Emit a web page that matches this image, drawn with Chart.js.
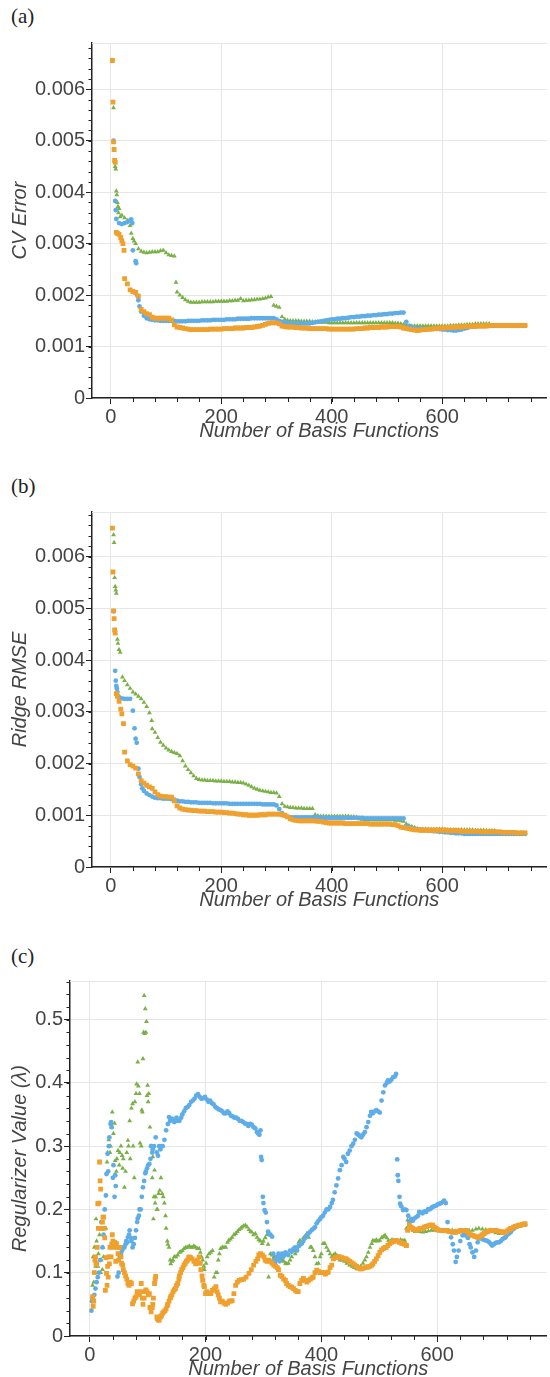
<!DOCTYPE html>
<html>
<head>
<meta charset="utf-8">
<script src="https://cdn.jsdelivr.net/npm/chart.js@4.4.1/dist/chart.umd.min.js"></script>
<style>
  body { margin: 0; background: #fff; width: 550px; height: 1377px; position: relative; overflow: hidden; }
  .panel { position: absolute; left: 0; width: 550px; height: 450px; }
  .tag { position: absolute; left: 11px; font: 21px "Liberation Serif", serif; color: #222; }
</style>
</head>
<body>
<div class="tag" style="top:4px">(a)</div>
<div class="panel" style="top:0"><canvas id="cvChart" width="550" height="450"></canvas></div>
<div class="tag" style="top:474px">(b)</div>
<div class="panel" style="top:469px"><canvas id="rmseChart" width="550" height="450"></canvas></div>
<div class="tag" style="top:944px">(c)</div>
<div class="panel" style="top:938px"><canvas id="lambdaChart" width="550" height="450"></canvas></div>
<script>
// ---- axes ----
const basisTicks = [0, 200, 400, 600];
const basisLabels = ["0", "200", "400", "600"];
const errorTicks = [0, 0.001, 0.002, 0.003, 0.004, 0.005, 0.006];
const errorLabels = ["0", "0.001", "0.002", "0.003", "0.004", "0.005", "0.006"];
const lambdaTicks = [0, 0.1, 0.2, 0.3, 0.4, 0.5];
const lambdaLabels = ["0", "0.1", "0.2", "0.3", "0.4", "0.5"];

// number of basis functions sampled in panels (a) and (b)
const gridAB = [
  10,15,20,25,30,35,40,45,50,55,
  60,65,70,75,80,85,90,95,100,105,
  110,115,120,125,130,135,140,145,150,155,
  160,165,170,175,180,185,190,195,200,205,
  210,215,220,225,230,235,240,245,250,255,
  260,265,270,275,280,285,290,295,300,305,
  310,315,320,325,330,335,340,345,350,355,
  360,365,370,375,380,385,390,395,400,405,
  410,415,420,425,430,435,440,445,450,455,
  460,465,470,475,480,485,490,495,500,505,
  510,515,520,525,530,535,540,545,550,555,
  560,565,570,575,580,585,590,595,600,605,
  610,615,620,625,630,635,640,645,650,655,
  660,665,670,675,680,685,690,695,700,705,
  710,715,720,725,730,735,740,745,750
];

// ---- (a) CV error ----
const cvBlueHeadX = [5, 8, 9, 37, 39, 46, 48, 52];
const cvBlueHeadY = [0.00500, 0.00383, 0.00365, 0.00347, 0.00340, 0.00262, 0.00199, 0.00178];
const cvBlue = [
  0.00348,0.00340,0.00338,0.00340,0.00342,0.00345,0.00287,0.00266,0.00190,0.00168,
  0.00160,0.00155,0.00153,0.00152,0.00151,0.00151,0.00150,0.00150,0.00150,0.00150,
  0.00150,0.00150,0.00149,0.00149,0.00149,0.00149,0.00150,0.00150,0.00150,0.00150,
  0.00150,0.00151,0.00151,0.00151,0.00151,0.00152,0.00152,0.00152,0.00152,0.00152,
  0.00153,0.00153,0.00153,0.00153,0.00154,0.00154,0.00154,0.00154,0.00154,0.00155,
  0.00155,0.00155,0.00155,0.00155,0.00155,0.00155,0.00155,0.00155,0.00153,0.00150,
  0.00148,0.00147,0.00146,0.00145,0.00145,0.00145,0.00145,0.00145,0.00145,0.00145,
  0.00145,0.00146,0.00147,0.00148,0.00149,0.00150,0.00151,0.00152,0.00153,0.00153,
  0.00154,0.00154,0.00155,0.00155,0.00156,0.00157,0.00157,0.00158,0.00158,0.00159,
  0.00159,0.00160,0.00160,0.00161,0.00161,0.00162,0.00162,0.00163,0.00163,0.00164,
  0.00164,0.00165,0.00165,0.00166,0.00166,0.00148,0.00140,0.00137,0.00136,0.00135,
  0.00135,0.00135,0.00134,0.00134,0.00134,0.00134,0.00134,0.00134,0.00133,0.00133,
  0.00132,0.00132,0.00131,0.00131,0.00132,0.00133,0.00135,0.00136,0.00138,0.00139,
  0.00139,0.00140,0.00140,0.00140,0.00140,0.00140,0.00140,0.00140,0.00140,0.00140,
  0.00140,0.00140,0.00140,0.00140,0.00140,0.00140,0.00140,0.00140,0.00140
];
const cvGreenHeadX = [5, 7, 8, 9, 11, 12, 13, 14, 17, 37, 42, 118];
const cvGreenHeadY = [0.00564, 0.00460, 0.00450, 0.00445, 0.00395, 0.00380, 0.00372, 0.00360, 0.00352, 0.00320, 0.00305, 0.00225];
const cvGreen = [
  0.00402,0.00368,0.00355,0.00350,0.00345,0.00335,0.00310,0.00300,0.00290,0.00285,
  0.00283,0.00282,0.00283,0.00284,0.00284,0.00284,0.00286,0.00287,0.00282,0.00278,
  0.00277,0.00276,0.00206,0.00200,0.00195,0.00191,0.00188,0.00186,0.00186,0.00186,
  0.00186,0.00187,0.00187,0.00187,0.00187,0.00187,0.00188,0.00188,0.00188,0.00188,
  0.00188,0.00189,0.00189,0.00190,0.00190,0.00193,0.00189,0.00190,0.00190,0.00191,
  0.00191,0.00192,0.00192,0.00193,0.00194,0.00196,0.00197,0.00180,0.00178,0.00176,
  0.00158,0.00153,0.00151,0.00150,0.00150,0.00150,0.00150,0.00149,0.00149,0.00149,
  0.00149,0.00148,0.00148,0.00148,0.00147,0.00147,0.00147,0.00146,0.00146,0.00146,
  0.00146,0.00146,0.00146,0.00146,0.00146,0.00146,0.00146,0.00146,0.00146,0.00146,
  0.00146,0.00146,0.00146,0.00146,0.00146,0.00146,0.00146,0.00146,0.00146,0.00146,
  0.00146,0.00145,0.00145,0.00144,0.00143,0.00141,0.00140,0.00140,0.00140,0.00140,
  0.00140,0.00140,0.00140,0.00140,0.00140,0.00140,0.00140,0.00140,0.00140,0.00140,
  0.00140,0.00141,0.00141,0.00141,0.00142,0.00142,0.00142,0.00143,0.00143,0.00143,
  0.00144,0.00144,0.00144,0.00144,0.00144,0.00144,null,null,null,null,
  null,null,null,null,null,null,null,null,null
];
const cvOrangeHeadX = [3, 4, 5, 6, 7, 8, 12, 18, 22, 24];
const cvOrangeHeadY = [0.00656, 0.00575, 0.00498, 0.00483, 0.00462, 0.00458, 0.00320, 0.00312, 0.00300, 0.00287];
const cvOrange = [
  0.00322,0.00318,0.00306,0.00232,0.00222,0.00210,0.00207,0.00205,0.00198,0.00172,
  0.00168,0.00164,0.00162,0.00157,0.00155,0.00155,0.00155,0.00155,0.00155,0.00155,
  0.00152,0.00142,0.00138,0.00137,0.00136,0.00135,0.00134,0.00133,0.00133,0.00133,
  0.00133,0.00133,0.00133,0.00133,0.00134,0.00134,0.00134,0.00134,0.00134,0.00135,
  0.00135,0.00135,0.00135,0.00136,0.00136,0.00136,0.00136,0.00137,0.00137,0.00137,
  0.00138,0.00139,0.00140,0.00141,0.00143,0.00145,0.00146,0.00146,0.00146,0.00144,
  0.00140,0.00139,0.00138,0.00138,0.00138,0.00137,0.00137,0.00136,0.00136,0.00136,
  0.00135,0.00135,0.00135,0.00135,0.00135,0.00135,0.00135,0.00134,0.00134,0.00134,
  0.00134,0.00134,0.00134,0.00134,0.00134,0.00134,0.00134,0.00135,0.00135,0.00135,
  0.00136,0.00136,0.00137,0.00137,0.00137,0.00137,0.00138,0.00138,0.00138,0.00139,
  0.00139,0.00139,0.00139,0.00138,0.00136,0.00135,0.00134,0.00133,0.00132,0.00131,
  0.00132,0.00133,0.00133,0.00134,0.00134,0.00135,0.00135,0.00136,0.00136,0.00136,
  0.00137,0.00137,0.00137,0.00138,0.00138,0.00138,0.00139,0.00139,0.00139,0.00140,
  0.00140,0.00140,0.00140,0.00140,0.00140,0.00141,0.00141,0.00141,0.00141,0.00141,
  0.00141,0.00141,0.00141,0.00141,0.00141,0.00141,0.00141,0.00141,0.00141
];

// ---- (b) ridge RMSE ----
const rmseBlueHeadX = [5, 8, 9, 11, 12, 43, 47, 52, 57];
const rmseBlueHeadY = [0.00494, 0.00379, 0.00360, 0.00345, 0.00338, 0.00268, 0.00240, 0.00174, 0.00152];
const rmseBlue = [
  0.00350,0.00328,0.00326,0.00325,0.00325,0.00325,0.00302,0.00248,0.00190,0.00160,
  0.00147,0.00142,0.00139,0.00136,0.00134,0.00133,0.00133,0.00132,0.00132,0.00132,
  0.00131,0.00130,0.00128,0.00127,0.00127,0.00126,0.00126,0.00125,0.00125,0.00125,
  0.00124,0.00124,0.00124,0.00124,0.00124,0.00123,0.00123,0.00123,0.00123,0.00123,
  0.00123,0.00122,0.00122,0.00122,0.00122,0.00122,0.00122,0.00122,0.00122,0.00122,
  0.00122,0.00122,0.00122,0.00121,0.00121,0.00121,0.00121,0.00121,0.00119,0.00112,
  0.00104,0.00100,0.00097,0.00096,0.00096,0.00096,0.00096,0.00096,0.00096,0.00096,
  0.00096,0.00096,0.00096,0.00096,0.00096,0.00095,0.00095,0.00095,0.00095,0.00095,
  0.00095,0.00095,0.00095,0.00095,0.00095,0.00095,0.00095,0.00095,0.00095,0.00095,
  0.00094,0.00094,0.00094,0.00094,0.00094,0.00094,0.00094,0.00094,0.00094,0.00094,
  0.00094,0.00094,0.00094,0.00094,0.00094,0.00080,0.00076,0.00075,0.00074,0.00073,
  0.00072,0.00071,0.00071,0.00070,0.00070,0.00069,0.00069,0.00068,0.00068,0.00067,
  0.00067,0.00066,0.00066,0.00065,0.00065,0.00065,0.00064,0.00064,0.00064,0.00064,
  0.00064,0.00064,0.00064,0.00064,0.00064,0.00064,0.00064,0.00064,0.00064,0.00064,
  0.00064,0.00064,0.00064,0.00064,0.00064,0.00064,0.00064,0.00064,0.00064
];
const rmseGreenHeadX = [5, 6, 7, 8, 9, 12, 13, 15, 17, 21, 74];
const rmseGreenHeadY = [0.00642, 0.00627, 0.00559, 0.00542, 0.00535, 0.00440, 0.00432, 0.00420, 0.00415, 0.00367, 0.00283];
const rmseGreen = [
  0.00529,null,null,0.00360,0.00352,0.00345,0.00338,0.00334,0.00330,0.00325,
  0.00318,0.00310,0.00298,0.00267,0.00260,0.00250,0.00241,0.00235,0.00230,0.00226,
  0.00223,0.00221,0.00219,0.00215,0.00205,0.00195,0.00188,0.00182,0.00176,0.00171,
  0.00169,0.00168,0.00168,0.00167,0.00167,0.00167,0.00166,0.00166,0.00166,0.00165,
  0.00165,0.00165,0.00164,0.00164,0.00163,0.00163,0.00162,0.00160,0.00158,0.00155,
  0.00152,0.00150,0.00148,0.00147,0.00146,0.00145,0.00144,0.00144,0.00143,0.00136,
  0.00122,0.00117,0.00116,0.00115,0.00115,0.00114,0.00114,0.00114,0.00113,0.00113,
  0.00113,0.00113,0.00101,0.00099,0.00098,0.00098,0.00098,0.00098,0.00098,0.00098,
  0.00098,0.00098,0.00098,0.00098,0.00098,0.00097,0.00097,0.00096,0.00093,0.00092,
  0.00091,0.00091,0.00091,0.00091,0.00091,0.00091,0.00091,0.00091,0.00091,0.00091,
  0.00091,0.00090,0.00090,0.00089,0.00088,0.00083,0.00080,0.00078,0.00076,0.00074,
  0.00073,0.00073,0.00073,0.00073,0.00073,0.00073,0.00073,0.00073,0.00073,0.00073,
  0.00072,0.00072,0.00072,0.00072,0.00072,0.00072,0.00072,0.00072,0.00072,0.00072,
  0.00071,0.00071,0.00071,0.00071,0.00070,0.00070,0.00070,0.00070,null,null,
  null,null,null,null,null,null,null,null,null
];
const rmseOrangeHeadX = [3, 4, 5, 6, 7, 8, 12, 18, 23];
const rmseOrangeHeadY = [0.00655, 0.00570, 0.00495, 0.00480, 0.00458, 0.00452, 0.00330, 0.00305, 0.00277];
const rmseOrange = [
  0.00335,0.00320,0.00296,0.00222,0.00205,0.00198,0.00195,0.00191,0.00180,0.00167,
  0.00162,0.00158,0.00155,0.00152,0.00145,0.00140,0.00137,0.00136,0.00136,0.00135,
  0.00135,0.00128,0.00118,0.00114,0.00112,0.00111,0.00110,0.00110,0.00109,0.00109,
  0.00108,0.00108,0.00108,0.00107,0.00107,0.00107,0.00106,0.00106,0.00106,0.00105,
  0.00105,0.00104,0.00104,0.00103,0.00102,0.00102,0.00101,0.00101,0.00100,0.00100,
  0.00100,0.00100,0.00101,0.00101,0.00101,0.00102,0.00102,0.00102,0.00102,0.00102,
  0.00101,0.00100,0.00097,0.00093,0.00091,0.00090,0.00089,0.00089,0.00089,0.00089,
  0.00089,0.00089,0.00089,0.00088,0.00088,0.00087,0.00086,0.00085,0.00085,0.00085,
  0.00085,0.00085,0.00085,0.00084,0.00084,0.00084,0.00084,0.00084,0.00084,0.00084,
  0.00084,0.00084,0.00083,0.00083,0.00083,0.00083,0.00083,0.00083,0.00083,0.00083,
  0.00082,0.00082,0.00080,0.00077,0.00076,0.00075,0.00074,0.00073,0.00072,0.00072,
  0.00071,0.00071,0.00071,0.00071,0.00071,0.00071,0.00071,0.00071,0.00071,0.00071,
  0.00070,0.00070,0.00070,0.00070,0.00070,0.00069,0.00069,0.00069,0.00069,0.00069,
  0.00069,0.00069,0.00068,0.00068,0.00068,0.00068,0.00068,0.00068,0.00068,0.00068,
  0.00067,0.00067,0.00067,0.00067,0.00067,0.00066,0.00066,0.00066,0.00066
];

// ---- (c) regularizer value, [basis functions, lambda] ----
const lambdaBlue = [
  [3,.040],[4,.055],[5,.060],[6,.058],[8,.065],[10,.075],[12,.085],[14,.093],[16,.100],[18,.120],
  [20,.180],[22,.140],[24,.160],[26,.200],[28,.222],[29,.256],[31,.288],[32,.260],[33,.300],[34,.314],
  [36,.335],[37,.338],[38,.330],[40,.250],[41,.270],[43,.220],[44,.254],[45,.237],[46,.146],[48,.094],
  [50,.100],[52,.125],[54,.130],[56,.135],[58,.140],[60,.140],[62,.145],[63,.150],[65,.148],[66,.156],
  [68,.160],[69,.167],[71,.155],[72,.150],[74,.140],[76,.145],[78,.155],[80,.167],[82,.180],[83,.186],
  [85,.190],[86,.200],[88,.200],[90,.220],[92,.235],[94,.245],[96,.257],[97,.260],[99,.265],[101,.270],
  [103,.272],[105,.280],[106,.300],[108,.290],[109,.295],[111,.300],[114,.314],[116,.290],[118,.285],[120,.300],
  [122,.295],[124,.300],[126,.300],[129,.310],[132,.325],[135,.335],[137,.346],[139,.340],[141,.343],[143,.343],
  [146,.338],[148,.340],[150,.345],[152,.340],[155,.340],[158,.345],[160,.350],[163,.355],[166,.360],[169,.362],
  [172,.365],[175,.370],[178,.372],[181,.375],[184,.380],[187,.382],[190,.378],[193,.375],[196,.376],[199,.378],
  [202,.374],[205,.370],[208,.372],[211,.368],[214,.366],[217,.362],[220,.360],[223,.358],[226,.357],[229,.355],
  [232,.352],[235,.352],[238,.355],[241,.352],[244,.348],[247,.347],[250,.345],[253,.345],[256,.343],[259,.340],
  [262,.340],[265,.338],[268,.336],[271,.335],[274,.332],[277,.335],[280,.334],[283,.330],[286,.328],[289,.322],
  [291,.320],[293,.318],[295,.325],[296,.283],[297,.278],[299,.220],[300,.210],[302,.199],[304,.195],[306,.180],
  [308,.165],[309,.162],[312,.160],[315,.157],[317,.130],[318,.120],[320,.115],[322,.120],[324,.125],[326,.130],
  [328,.118],[330,.125],[332,.130],[334,.125],[336,.128],[338,.132],[340,.130],[343,.128],[346,.135],[349,.133],
  [352,.138],[355,.140],[358,.135],[361,.142],[364,.145],[366,.146],[369,.150],[372,.155],[375,.158],[378,.162],
  [381,.165],[384,.168],[387,.170],[389,.172],[392,.178],[395,.182],[398,.185],[400,.188],[403,.190],[406,.195],
  [409,.200],[412,.200],[415,.204],[418,.210],[420,.215],[423,.227],[426,.238],[429,.249],[432,.262],[435,.270],
  [438,.283],[440,.280],[443,.275],[446,.288],[449,.293],[452,.300],[455,.304],[458,.310],[461,.320],[464,.318],
  [467,.316],[469,.314],[472,.318],[475,.322],[478,.330],[481,.338],[484,.348],[486,.354],[489,.352],[492,.355],
  [495,.357],[498,.355],[501,.353],[504,.372],[507,.385],[510,.396],[513,.400],[515,.404],[518,.402],[521,.405],
  [524,.409],[527,.410],[529,.414],[531,.279],[532,.254],[533,.245],[535,.220],[536,.209],[538,.205],[541,.199],
  [544,.200],[547,.199],[550,.190],[552,.180],[555,.185],[558,.182],[561,.186],[564,.188],[567,.190],[569,.196],
  [572,.195],[575,.194],[578,.197],[581,.196],[584,.200],[587,.200],[590,.202],[592,.204],[595,.205],[598,.206],
  [601,.208],[604,.209],[607,.210],[610,.212],[612,.214],[615,.210],[618,.180],[621,.165],[624,.156],[627,.145],
  [629,.135],[632,.117],[634,.125],[637,.135],[640,.150],[644,.159],[647,.160],[650,.159],[653,.155],[656,.145],
  [658,.140],[661,.132],[664,.125],[667,.135],[670,.148],[672,.154],[675,.155],[678,.153],[681,.152],[684,.151],
  [687,.150],[690,.148],[693,.145],[695,.143],[698,.145],[701,.147],[704,.148],[707,.148],[710,.150],[713,.153],
  [716,.155],[718,.156],[721,.160],[724,.162],[727,.164],[730,.168],[733,.170],[735,.172],[738,.173],[741,.174],
  [744,.175],[747,.176],[750,.176],[752,.176]
];
const lambdaGreen = [
  [5,.080],[6,.125],[7,.085],[8,.140],[9,.100],[10,.110],[11,.185],[12,.150],[14,.110],[15,.130],
  [17,.160],[19,.100],[20,.120],[22,.105],[23,.140],[24,.125],[26,.200],[28,.170],[30,.275],[31,.290],
  [33,.310],[35,.290],[36,.300],[38,.330],[39,.354],[41,.320],[43,.336],[44,.277],[46,.260],[47,.280],
  [49,.293],[51,.270],[52,.290],[54,.300],[56,.285],[57,.265],[58,.280],[60,.235],[62,.260],[64,.290],
  [66,.309],[67,.300],[69,.340],[70,.280],[72,.360],[74,.367],[75,.300],[77,.250],[78,.370],[80,.383],
  [81,.398],[83,.433],[84,.395],[86,.383],[87,.305],[89,.300],[90,.357],[91,.354],[92,.438],[93,.480],
  [94,.538],[95,.478],[96,.517],[97,.480],[98,.497],[99,.380],[100,.396],[101,.370],[102,.383],[104,.330],
  [106,.300],[108,.250],[109,.283],[110,.185],[111,.220],[112,.262],[113,.210],[114,.220],[116,.200],[117,.200],
  [119,.225],[121,.230],[123,.250],[125,.225],[127,.220],[129,.210],[131,.190],[132,.170],[134,.150],[135,.145],
  [137,.140],[139,.120],[140,.114],[142,.118],[144,.120],[146,.125],[149,.125],[152,.128],[155,.132],[157,.133],
  [160,.135],[163,.138],[166,.140],[169,.140],[172,.142],[175,.140],[177,.140],[180,.142],[183,.140],[186,.138],
  [189,.138],[191,.132],[193,.125],[195,.120],[197,.110],[198,.105],[201,.115],[203,.125],[206,.130],[209,.132],
  [212,.135],[215,.093],[218,.100],[220,.100],[222,.120],[224,.130],[226,.138],[229,.140],[232,.140],[235,.140],
  [238,.148],[240,.151],[243,.153],[246,.156],[249,.160],[252,.162],[255,.165],[258,.168],[261,.170],[263,.172],
  [266,.174],[269,.175],[272,.172],[275,.168],[278,.165],[280,.164],[283,.160],[286,.162],[289,.156],[292,.152],
  [295,.150],[298,.146],[300,.150],[303,.155],[306,.160],[308,.145],[309,.093],[312,.130],[315,.128],[318,.125],
  [320,.125],[323,.122],[326,.120],[329,.122],[332,.120],[335,.118],[338,.115],[340,.114],[343,.115],[346,.120],
  [349,.125],[352,.135],[355,.130],[358,.140],[361,.148],[363,.151],[366,.146],[369,.155],[372,.158],[375,.162],
  [378,.156],[381,.140],[383,.140],[386,.135],[389,.125],[392,.114],[395,.115],[398,.125],[400,.130],[403,.146],
  [406,.146],[409,.140],[412,.135],[415,.130],[418,.125],[421,.128],[424,.130],[427,.127],[430,.123],[432,.120],
  [436,.120],[440,.118],[444,.115],[449,.112],[453,.110],[457,.108],[461,.106],[464,.106],[468,.110],[472,.115],
  [475,.120],[478,.125],[481,.132],[484,.140],[487,.146],[489,.151],[492,.150],[495,.152],[498,.150],[501,.151],
  [504,.155],[507,.157],[510,.159],[513,.155],[516,.151],[519,.150],[522,.152],[525,.151],[529,.151],[533,.150],
  [537,.152],[541,.151],[544,.151],[547,.170],[549,.183],[552,.175],[555,.170],[558,.167],[562,.165],[566,.166],
  [570,.165],[575,.164],[580,.165],[585,.166],[590,.167],[595,.167],[600,.166],[605,.167],[610,.167],[615,.166],
  [620,.167],[626,.167],[631,.166],[637,.164],[643,.165],[649,.166],[655,.167],[661,.167],[667,.169],[672,.170],
  [678,.169],[684,.168],[690,.167],[695,.165],[701,.163],[707,.162],[712,.162],[718,.162]
];
const lambdaOrange = [
  [5,.062],[6,.047],[7,.055],[8,.100],[9,.120],[10,.125],[11,.115],[12,.113],[13,.140],[14,.209],
  [15,.170],[16,.210],[17,.275],[18,.245],[19,.232],[20,.170],[21,.170],[22,.180],[23,.188],[24,.188],
  [25,.170],[26,.155],[27,.072],[28,.124],[29,.099],[30,.080],[31,.110],[32,.093],[33,.125],[34,.114],
  [35,.140],[37,.125],[38,.145],[39,.160],[40,.150],[42,.140],[43,.148],[45,.118],[46,.146],[48,.140],
  [49,.130],[50,.120],[52,.140],[54,.125],[55,.115],[57,.112],[58,.105],[60,.100],[62,.095],[64,.090],
  [66,.083],[68,.080],[70,.085],[72,.083],[74,.051],[76,.055],[78,.060],[80,.062],[82,.070],[84,.065],
  [86,.067],[88,.070],[89,.083],[91,.060],[92,.050],[94,.060],[96,.070],[97,.073],[99,.070],[101,.065],
  [103,.067],[104,.045],[106,.038],[108,.045],[109,.050],[110,.060],[112,.083],[113,.090],[114,.094],[116,.030],
  [117,.027],[119,.025],[120,.025],[122,.030],[124,.032],[126,.036],[128,.038],[130,.040],[132,.043],[134,.048],
  [135,.050],[137,.055],[139,.060],[140,.062],[142,.065],[144,.070],[146,.073],[148,.075],[150,.080],[152,.083],
  [154,.090],[155,.095],[157,.100],[159,.105],[161,.108],[163,.112],[165,.115],[167,.118],[169,.120],[171,.124],
  [172,.125],[174,.124],[177,.122],[180,.118],[183,.114],[186,.120],[189,.125],[191,.115],[192,.105],[194,.095],
  [195,.088],[197,.080],[198,.078],[200,.067],[202,.070],[204,.068],[207,.067],[209,.067],[212,.072],[215,.075],
  [218,.078],[220,.070],[222,.065],[224,.060],[226,.054],[229,.055],[232,.052],[235,.050],[238,.052],[241,.055],
  [244,.055],[246,.056],[249,.067],[252,.080],[255,.085],[258,.088],[262,.089],[266,.090],[270,.093],[275,.099],
  [279,.105],[283,.112],[287,.118],[290,.122],[292,.128],[295,.130],[298,.128],[301,.125],[303,.120],[306,.118],
  [309,.120],[312,.118],[315,.115],[318,.112],[321,.110],[324,.108],[326,.105],[329,.096],[332,.094],[335,.090],
  [338,.088],[340,.083],[343,.080],[346,.078],[349,.077],[352,.075],[355,.072],[358,.070],[360,.070],[363,.083],
  [366,.088],[369,.091],[372,.088],[375,.085],[378,.088],[381,.090],[384,.092],[386,.093],[389,.100],[392,.104],
  [395,.102],[398,.100],[401,.100],[404,.100],[407,.098],[410,.100],[412,.101],[415,.108],[418,.112],[421,.122],
  [424,.124],[427,.125],[430,.125],[432,.125],[435,.124],[438,.123],[441,.122],[443,.122],[446,.120],[449,.118],
  [452,.116],[455,.114],[458,.112],[461,.110],[464,.108],[467,.106],[469,.106],[472,.107],[475,.108],[478,.109],
  [481,.109],[484,.110],[487,.112],[489,.114],[492,.118],[495,.122],[498,.127],[501,.132],[504,.136],[507,.138],
  [510,.140],[512,.140],[515,.143],[518,.146],[521,.148],[524,.149],[527,.150],[529,.151],[532,.150],[535,.148],
  [538,.147],[541,.146],[544,.145],[547,.143],[549,.167],[552,.175],[555,.172],[558,.170],[561,.168],[564,.167],
  [567,.168],[570,.170],[573,.170],[575,.170],[578,.172],[581,.173],[584,.174],[587,.175],[590,.175],[592,.175],
  [595,.172],[598,.170],[601,.168],[604,.167],[607,.167],[610,.167],[613,.167],[615,.167],[618,.166],[621,.165],
  [624,.165],[627,.164],[630,.164],[632,.164],[635,.165],[638,.166],[641,.167],[644,.167],[647,.167],[649,.167],
  [652,.165],[655,.162],[658,.160],[661,.159],[664,.158],[667,.157],[670,.156],[672,.156],[675,.158],[678,.160],
  [681,.162],[684,.164],[687,.165],[690,.166],[693,.167],[696,.167],[699,.167],[701,.167],[704,.166],[707,.165],
  [710,.165],[713,.164],[716,.164],[718,.164],[721,.166],[724,.168],[727,.170],[729,.170],[732,.172],[735,.173],
  [738,.174],[741,.175],[744,.175],[747,.176],[750,.177],[752,.177]
];

// ---- helpers ----
const BLUE = "rgb(94,173,232)";
const GREEN = "rgb(122,176,70)";
const ORANGE = "rgb(240,160,45)";

function gridPoints(headX, headY, values) {
  const pts = headX.map((x, i) => ({ x, y: headY[i] }));
  gridAB.forEach((x, i) => {
    if (values[i] != null) pts.push({ x, y: values[i] });
  });
  return pts;
}
const pairPoints = (rows) => rows.map(([x, y]) => ({ x, y }));

function seriesSet(orange, blue, green) {
  // first dataset is painted last, so orange sits on top
  return [
    { data: orange, pointStyle: "rect", pointRadius: 3.4, backgroundColor: ORANGE },
    { data: blue, pointStyle: "circle", pointRadius: 2.4, backgroundColor: BLUE },
    { data: green, pointStyle: "triangle", pointRadius: 2.8, backgroundColor: GREEN }
  ].map(d => ({ ...d, borderWidth: 0, pointHoverRadius: 0 }));
}

// short minor tick marks + light top frame line
const axisExtras = {
  id: "axisExtras",
  afterDraw(chart, args, opts) {
    const { ctx, chartArea: a, scales: { x, y } } = chart;
    ctx.save();
    ctx.strokeStyle = "#e6e6e6";
    ctx.lineWidth = 1;
    ctx.beginPath();
    ctx.moveTo(a.left, a.top + 0.5);
    ctx.lineTo(a.right, a.top + 0.5);
    ctx.stroke();
    ctx.strokeStyle = "#222";
    ctx.beginPath();
    for (let k = 1; k * opts.xMinor <= x.max; k++) {
      const px = Math.round(x.getPixelForValue(k * opts.xMinor)) + 0.5;
      ctx.moveTo(px, a.bottom);
      ctx.lineTo(px, a.bottom + 4);
    }
    for (let k = 1; k * opts.yMinor <= y.max; k++) {
      const py = Math.round(y.getPixelForValue(k * opts.yMinor)) + 0.5;
      ctx.moveTo(a.left, py);
      ctx.lineTo(a.left - 3.5, py);
    }
    ctx.stroke();
    ctx.restore();
  }
};

const tickFont = { family: "'Liberation Sans', Arial, sans-serif", size: 20 };
const titleFont = { family: "'Liberation Sans', Arial, sans-serif", size: 20, style: "italic" };

function makeChart(id, datasets, yAxis) {
  return new Chart(document.getElementById(id), {
    type: "scatter",
    data: { datasets },
    options: {
      responsive: false,
      animation: false,
      events: [],
      layout: { padding: { top: 43, right: 0, bottom: 0, left: 0 } },
      plugins: {
        legend: { display: false },
        tooltip: { enabled: false },
        axisExtras: { xMinor: 40, yMinor: yAxis.minor }
      },
      scales: {
        x: {
          type: "linear",
          min: -34,
          max: 789,
          afterBuildTicks: s => { s.ticks = basisTicks.map(value => ({ value })); },
          afterFit: s => { s.height = 52; },
          grid: { color: "#e6e6e6", tickColor: "#222", tickLength: 6 },
          border: { color: "#222", width: 1.5 },
          ticks: { autoSkip: false, maxRotation: 0, padding: 1, color: "#444", font: tickFont,
                   callback: (v, i) => basisLabels[i] },
          title: { display: true, text: "Number of Basis Functions", color: "#444", font: titleFont,
                   padding: { top: 0, bottom: 7 } }
        },
        y: {
          min: 0,
          max: yAxis.max,
          afterBuildTicks: s => { s.ticks = yAxis.ticks.map(value => ({ value })); },
          afterFit: s => { s.width = yAxis.width; },
          grid: { color: "#e6e6e6", tickColor: "#222", tickLength: 6 },
          border: { color: "#222", width: 1.5 },
          ticks: { autoSkip: false, padding: 1, color: "#444", font: tickFont,
                   callback: (v, i) => yAxis.labels[i] },
          title: { display: true, text: yAxis.title, color: "#444", font: titleFont,
                   padding: { top: 8, bottom: 0 } }
        }
      }
    },
    plugins: [axisExtras]
  });
}

makeChart("cvChart",
  seriesSet(gridPoints(cvOrangeHeadX, cvOrangeHeadY, cvOrange),
            gridPoints(cvBlueHeadX, cvBlueHeadY, cvBlue),
            gridPoints(cvGreenHeadX, cvGreenHeadY, cvGreen)),
  { max: 0.0069, ticks: errorTicks, labels: errorLabels, minor: 0.0002, width: 92, title: "CV Error" });

makeChart("rmseChart",
  seriesSet(gridPoints(rmseOrangeHeadX, rmseOrangeHeadY, rmseOrange),
            gridPoints(rmseBlueHeadX, rmseBlueHeadY, rmseBlue),
            gridPoints(rmseGreenHeadX, rmseGreenHeadY, rmseGreen)),
  { max: 0.00686, ticks: errorTicks, labels: errorLabels, minor: 0.0002, width: 92, title: "Ridge RMSE" });

makeChart("lambdaChart",
  seriesSet(pairPoints(lambdaOrange), pairPoints(lambdaBlue), pairPoints(lambdaGreen)),
  { max: 0.561, ticks: lambdaTicks, labels: lambdaLabels, minor: 0.02, width: 70, title: "Regularizer Value (λ)" });
</script>
</body>
</html>
